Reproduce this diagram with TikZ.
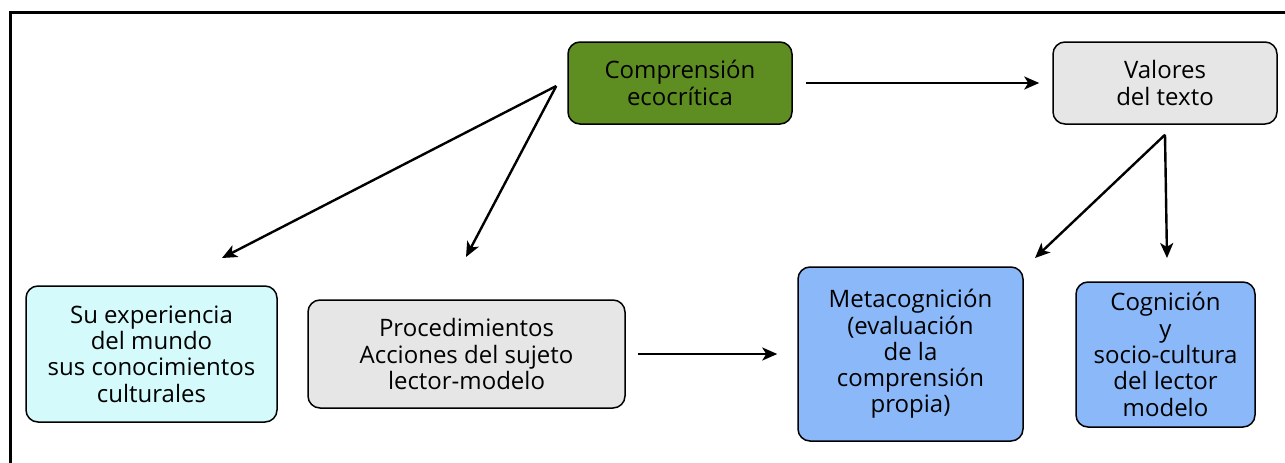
\documentclass[tikz,border=0pt]{standalone}
\usepackage{fontspec}
\setmainfont{Open Sans}
\usetikzlibrary{arrows.meta}
\definecolor{grn}{HTML}{5E8E22}
\definecolor{gry}{HTML}{E6E6E6}
\definecolor{cyn}{HTML}{D4FAFB}
\definecolor{blu}{HTML}{8AB8F8}
\tikzset{
  box/.style={draw=black, line width=1.5pt, rounded corners=12pt, align=center, inner sep=0pt,
    font=\fontsize{24}{26.3}\selectfont, text=black},
  conn/.style={line width=2.4pt, -{Stealth[length=15pt,width=13pt,inset=4pt]}},
}
\begin{document}
\begin{tikzpicture}[x=1pt,y=-1pt]
\useasboundingbox (0,0) rectangle (1285,463);
\draw[line width=3pt] (10,463) -- (10,12) -- (1285,12);
\node[box, fill=grn, minimum width=224pt, minimum height=82pt] (eco) at (680,83) {Comprensión\\ecocrítica};
\node[box, fill=gry, minimum width=224pt, minimum height=82pt] (val) at (1165,83) {Valores\\del texto};
\node[box, fill=cyn, minimum width=251pt, minimum height=136pt] (exp) at (151.5,354) {Su experiencia\\del mundo\\sus conocimientos\\culturales};
\node[box, fill=gry, minimum width=317pt, minimum height=108pt] (pro) at (466.5,354) {Procedimientos\\Acciones del sujeto\\lector-modelo};
\node[box, fill=blu, minimum width=225pt, minimum height=174pt] (met) at (910.5,354) {Metacognición\\(evaluación\\de la\\comprensión\\propia)};
\node[box, fill=blu, minimum width=179pt, minimum height=145pt] (cog) at (1165.5,354.5) {Cognición\\y\\socio-cultura\\del lector\\modelo};
\coordinate (s1) at ([xshift=-11pt,yshift=-3pt]eco.west);
\coordinate (s2) at ([yshift=-10pt]val.south);
\coordinate (e1) at (222,258);
\coordinate (e2) at (466,257);
\coordinate (e3) at (1035,258);
\coordinate (e4) at (1167,258);
\draw[conn] (s1) -- (e1);
\draw[conn] (s1) -- (e2);
\draw[conn] ([xshift=13pt]eco.east) -- ([xshift=-13pt]val.west);
\draw[conn] (s2) -- (e3);
\draw[conn] (s2) -- (e4);
\draw[conn] ([xshift=12pt]pro.east) -- ([xshift=-20pt]met.west);
\end{tikzpicture}
\end{document}
